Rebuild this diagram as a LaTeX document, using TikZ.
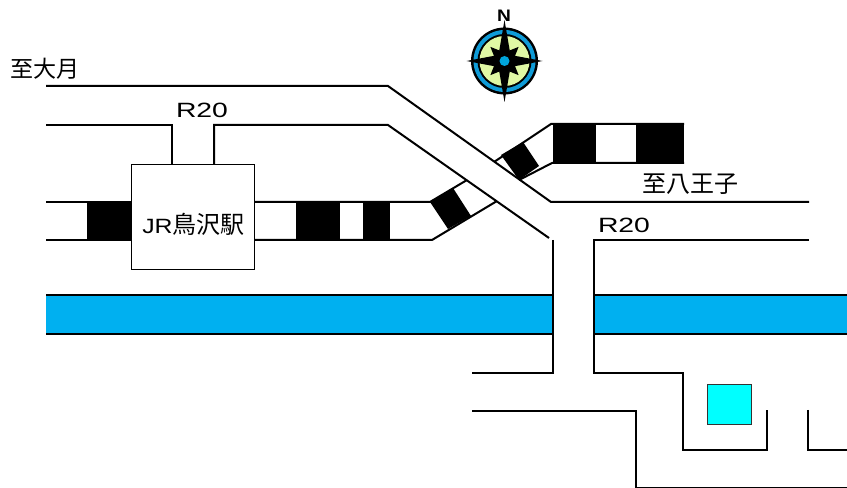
\documentclass[tikz,border=0pt]{standalone}
\usepackage{fontspec}
\setmainfont{Liberation Sans}
\newfontfamily\cjk{Noto Sans CJK JP}
\definecolor{river}{HTML}{00B0F0}
\definecolor{lawn}{HTML}{E0F8A4}
\definecolor{ring}{HTML}{0F9BD7}
\definecolor{hub}{HTML}{00A5DC}
\definecolor{aqua}{HTML}{00FFFF}
\tikzset{
  road/.style={draw=black,line width=1.5pt,line join=miter},
  blk/.style={fill=black,draw=none},
  cjklabel/.style={inner sep=0pt,font=\cjk\fontsize{17.3}{17}\selectfont},
}
\begin{document}
\begin{tikzpicture}[x=0.75pt,y=-0.75pt]
\useasboundingbox[fill=white] (0,0) rectangle (847,488);
% river
\fill[river] (46,295) rectangle (553,334);
\fill[river] (594,295) rectangle (847,334);
\draw[road] (46,295) -- (553,295) (46,334) -- (553,334);
\draw[road] (594,295) -- (847,295) (594,334) -- (847,334);
% railway blocks
\fill[blk] (87,202) rectangle (131,240);
\fill[blk] (296,202) rectangle (340,240);
\fill[blk] (363,202) rectangle (390,240);
\fill[blk] (430,202) -- (453,188) -- (471,216) -- (448,229) -- cycle;
\fill[blk] (501,155) -- (523,142) -- (539,166) -- (519,180) -- cycle;
\fill[blk] (553,124) rectangle (596,164);
\fill[blk] (636,124) rectangle (684,164);
% railway lines
\draw[road] (46,202) -- (131,202) (46,240) -- (131,240);
\draw[road] (255,202) -- (430,202) -- (467,180);
\draw[road] (255,240) -- (432,240) -- (497,201);
\draw[road] (494,162) -- (551,124) -- (684,124);
\draw[road] (519,180) -- (552,163) -- (684,163);
% roads
\draw[road] (46,86) -- (388,86) -- (551,202) -- (809,202);
\draw[road] (46,125) -- (172,125) -- (172,164);
\draw[road] (214,164) -- (214,125) -- (388,125) -- (549,238);
\draw[road] (553,240) -- (553,373) -- (472,373);
\draw[road] (809,240) -- (594,240) -- (594,373) -- (683,373) -- (683,450) -- (767,450) -- (767,410);
\draw[road] (808,410) -- (808,450) -- (847,450);
\draw[road] (472,411) -- (636,411) -- (636,488) -- (847,488);
% station
\node[draw=black,line width=1pt,fill=white,minimum width=92.25pt,minimum height=78.75pt,inner sep=0pt,anchor=north west] (station) at (131,164) {};
\node[anchor=west,inner sep=0pt] (stationlabel) at (142,224) {\fontsize{15.5}{15}\selectfont\scalebox{1.2}[1]{JR}\cjk\fontsize{18}{18}\selectfont 鳥沢駅};
% destination
\node[draw=black!80,line width=1pt,fill=aqua,minimum width=33pt,minimum height=30pt,inner sep=0pt,anchor=north west] (dest) at (707,384) {};
% labels
\node[cjklabel,anchor=west] (oki) at (10,69) {至大月};
\node[cjklabel,anchor=west,font=\cjk\fontsize{18}{18}\selectfont] (hachi) at (642,184) {至八王子};
\node[anchor=center,inner sep=0pt] (r1) at (202,110) {\fontsize{15.5}{15}\selectfont\scalebox{1.37}[1]{R20}};
\node[anchor=center,inner sep=0pt] (r2) at (624,225) {\fontsize{15.5}{15}\selectfont\scalebox{1.37}[1]{R20}};
% compass
\begin{scope}[shift={(504.5,61)}]
  \fill[black] (0,0) circle (33.5);
  \fill[ring] (0,0) circle (31);
  \fill[black] (0,0) circle (27);
  \fill[lawn] (0,0) circle (25);
  \foreach \a in {0,180}{
    \fill[black,rotate=\a] (0,-41) -- (-6,-6) -- (0,0) -- (6,-6) -- cycle;
  }
  \foreach \a in {90,270}{
    \fill[black,rotate=\a] (0,-38) -- (-6,-6) -- (0,0) -- (6,-6) -- cycle;
  }
  \foreach \a in {45,135,225,315}{
    \fill[black,rotate=\a] (0,-20) -- (-6,-6) -- (0,0) -- (6,-6) -- cycle;
  }
  \fill[hub] (0,0) circle (5);
\end{scope}
\node[inner sep=0pt] (north) at (504,15.5) {\fontsize{12.5}{12}\selectfont\bfseries\scalebox{1.15}[1]{N}};
\end{tikzpicture}
\end{document}
